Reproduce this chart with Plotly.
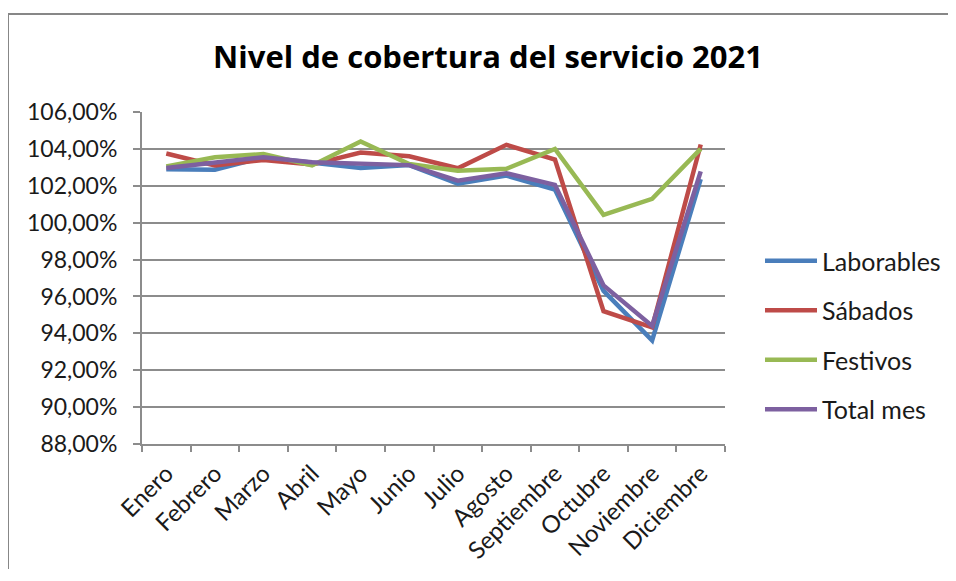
import plotly.graph_objects as go

meses = ["Enero", "Febrero", "Marzo", "Abril", "Mayo", "Junio", "Julio",
         "Agosto", "Septiembre", "Octubre", "Noviembre", "Diciembre"]
laborables = [102.90, 102.87, 103.55, 103.27, 102.96, 103.12, 102.12, 102.55, 101.80, 96.30, 93.62, 102.36]
sabados    = [103.75, 103.10, 103.40, 103.15, 103.80, 103.60, 102.95, 104.22, 103.42, 95.20, 94.32, 104.24]
festivos   = [103.05, 103.55, 103.72, 103.10, 104.40, 103.18, 102.82, 102.92, 104.00, 100.42, 101.29, 104.00]
total_mes  = [102.96, 103.25, 103.55, 103.27, 103.18, 103.12, 102.28, 102.68, 102.05, 96.60, 94.40, 102.78]
y_ticks = [88, 90, 92, 94, 96, 98, 100, 102, 104, 106]
y_tick_text = ["88,00%", "90,00%", "92,00%", "94,00%", "96,00%", "98,00%",
               "100,00%", "102,00%", "104,00%", "106,00%"]

series = [
    ("Laborables", laborables, "#4A7EBB"),
    ("Sábados", sabados, "#BE4B48"),
    ("Festivos", festivos, "#98B954"),
    ("Total mes", total_mes, "#7D60A0"),
]

fig = go.Figure()
for i, (name, vals, color) in enumerate(series):
    fig.add_trace(go.Scatter(
        x=meses, y=vals, name=name, mode="lines",
        line=dict(color=color, width=4.5),
        legendgroup=f"g{i}",
    ))

OFF = 8  # page body margin
W, H = 956 - 2 * OFF, 581 - 2 * OFF - 4
L, R, T, B = 142 - OFF, 725 - OFF, 112 - OFF, 444 - OFF
pw, ph = R - L, B - T

def px_x(p):
    return (p - OFF - L) / pw

def px_y(p):
    return (B - (p - OFF)) / ph

fig.update_layout(
    width=W, height=H,
    margin=dict(l=L, r=W - R, t=T, b=H - B, autoexpand=False),
    paper_bgcolor="white", plot_bgcolor="white",
    font=dict(family="Lato, 'Open Sans', sans-serif", color="#1a1a1a"),
    title=dict(
        text="<b>Nivel de cobertura del servicio 2021</b>",
        x=px_x(488), xref="paper", xanchor="center",
        y=1 - (57 - OFF) / H, yanchor="middle",
        font=dict(family="'Open Sans', Lato, sans-serif", size=31, color="black"),
    ),
    legend=dict(
        x=px_x(760), xanchor="left", y=px_y(335), yanchor="middle",
        font=dict(size=25, color="#1a1a1a"),
        tracegroupgap=14, itemwidth=52,
        bgcolor="rgba(0,0,0,0)",
    ),
    showlegend=True,
)
fig.update_xaxes(
    type="category", tickangle=-45, tickson="boundaries",
    ticks="outside", ticklen=6, tickcolor="#8c8c8c", tickwidth=2,
    showline=True, linecolor="#8c8c8c", linewidth=2,
    showgrid=False, tickfont=dict(size=24, color="#1a1a1a"),
    ticklabelstandoff=4,
    range=[-0.5, 11.5], automargin=False,
)
fig.update_yaxes(
    range=[88, 106], tickvals=y_ticks, ticktext=y_tick_text,
    ticks="outside", ticklen=7, tickcolor="#8c8c8c", tickwidth=2,
    showline=True, linecolor="#8c8c8c", linewidth=2,
    showgrid=True, gridcolor="#8c8c8c", gridwidth=2,
    zeroline=False, tickfont=dict(size=23, color="#1a1a1a"),
    ticklabelstandoff=11,
    automargin=False,
)
# outer chart border (left and top edges visible)
fig.add_shape(
    type="line", xref="paper", yref="paper",
    x0=px_x(8), x1=px_x(8), y0=px_y(OFF + H), y1=px_y(14),
    line=dict(color="#878787", width=2), layer="below",
)
fig.add_shape(
    type="line", xref="paper", yref="paper",
    x0=px_x(8), x1=px_x(OFF + W), y0=px_y(14), y1=px_y(14),
    line=dict(color="#878787", width=2), layer="below",
)
fig.write_html("out.html")
